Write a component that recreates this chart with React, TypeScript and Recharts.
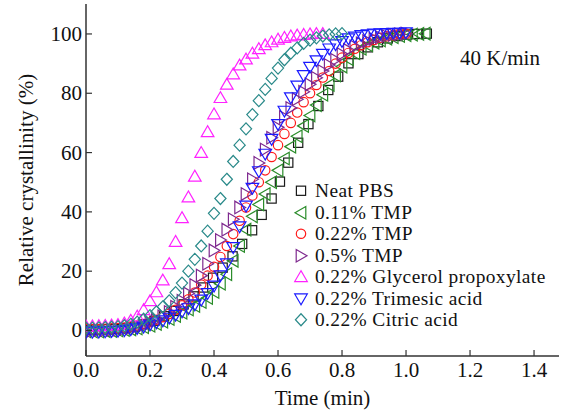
import React from 'react';
import { ScatterChart, Scatter, XAxis, YAxis, Legend, Customized } from 'recharts';

// time axis shared by most series (min)
const timeGrid = [
  0, 0.02, 0.04, 0.06, 0.08, 0.1, 0.12, 0.14, 0.16, 0.18,
  0.2, 0.22, 0.24, 0.26, 0.28, 0.3, 0.32, 0.34, 0.36, 0.38,
  0.4, 0.42, 0.44, 0.46, 0.48, 0.5, 0.52, 0.54, 0.56, 0.58,
  0.6, 0.62, 0.64, 0.66, 0.68, 0.7, 0.72, 0.74, 0.76, 0.78,
  0.8, 0.82, 0.84, 0.86, 0.88, 0.9, 0.92, 0.94, 0.96, 0.98,
  1.0, 1.02, 1.04, 1.06,
];

// neat PBS was sampled a bit more coarsely
const neatPbsTime = [
  0, 0.031, 0.061, 0.092, 0.122, 0.153, 0.183, 0.214, 0.244, 0.275,
  0.305, 0.336, 0.366, 0.397, 0.427, 0.458, 0.488, 0.519, 0.549, 0.58,
  0.606, 0.632, 0.663, 0.695, 0.726, 0.757, 0.788, 0.82, 0.851, 0.881,
  0.912, 0.943, 0.973, 1.004, 1.035, 1.065,
];
const neatPbs = [
  0.3, 0.3, 0.4, 0.5, 0.8, 1.3, 2.1, 3.3, 4.8, 6.6,
  8.8, 11.5, 14.5, 17.8, 21.2, 25.0, 29.2, 33.8, 39.0, 44.5,
  50.2, 56.6, 63.3, 69.6, 75.7, 81.1, 85.6, 90.1, 93.2, 95.5,
  97.2, 98.5, 99.3, 99.8, 100.0, 100.1,
];

const tmp011 = [
  -0.3, -0.3, -0.3, -0.2, -0.1, 0.0, 0.2, 0.4, 0.7, 1.1,
  1.6, 2.2, 3.0, 3.9, 4.9, 6.0, 7.1, 8.3, 9.6, 11.0,
  13.0, 15.8, 19.0, 23.5, 28.5, 34.0, 38.5, 42.5, 46.0, 50.0,
  54.0, 58.0, 62.0, 65.5, 69.0, 72.5, 76.0, 79.5, 82.8, 86.0,
  89.0, 91.5, 93.5, 95.0, 96.2, 97.1, 97.8, 98.4, 98.9, 99.3,
  99.6, 99.8, 100.0, 100.1,
];

const tmp022 = [
  0.5, 0.5, 0.5, 0.6, 0.7, 0.8, 1.0, 1.3, 1.7, 2.2,
  2.8, 3.6, 4.5, 5.6, 7.0, 8.5, 10.5, 12.8, 15.5, 18.5,
  21.5, 24.8, 28.5, 32.5, 37.0, 41.5, 45.5, 50.0, 54.0, 58.5,
  62.5, 66.3, 70.0, 73.5, 77.0, 80.0, 82.8, 85.3, 87.5, 90.0,
  92.0, 93.6, 95.0, 96.2, 97.2, 98.0, 98.7, 99.2, 99.6, 99.9,
  100.1,
];

const tmp05 = [
  0.0, 0.0, 0.1, 0.1, 0.2, 0.3, 0.5, 0.8, 1.2, 1.8,
  2.5, 3.5, 4.8, 6.2, 8.0, 10.0, 12.5, 15.3, 18.5, 22.5,
  27.0, 30.5, 34.0, 37.5, 41.5, 46.0, 51.0, 56.5, 61.0, 65.0,
  68.5, 72.0, 75.0, 78.0, 80.5, 83.0, 85.2, 87.5, 89.5, 91.3,
  93.2, 94.6, 95.8, 96.8, 97.6, 98.3, 98.9, 99.3, 99.7, 99.9,
  100.1,
];

const glycerol = [
  1.5, 1.5, 1.6, 1.7, 1.8, 2.0, 2.5, 3.4, 4.8, 7.0,
  10.0, 13.0, 17.0, 22.5, 30.0, 38.0, 45.0, 52.0, 60.0, 67.0,
  73.0, 78.5, 83.0, 86.5, 89.5, 91.5, 93.5, 95.0, 96.3, 97.3,
  98.2, 98.8, 99.3, 99.6, 99.8, 100.0, 100.1, 100.1,
];

const trimesic = [
  -0.5, -0.5, -0.5, -0.4, -0.3, -0.2, 0.0, 0.3, 0.7, 1.2,
  1.9, 2.6, 3.3, 4.2, 5.2, 6.3, 7.4, 8.7, 10.3, 12.5,
  15.0, 18.5, 22.5, 28.0, 35.0, 42.0, 48.0, 53.6, 59.5, 64.5,
  69.5, 74.0, 78.5, 82.5, 86.0, 88.8, 91.0, 93.2, 95.0, 96.4,
  97.5, 98.4, 99.0, 99.5, 99.8, 100.0, 100.1, 100.2, 100.3, 100.3,
  100.4,
];

const citric = [
  0.8, 0.8, 0.9, 1.0, 1.1, 1.3, 1.6, 2.1, 2.8, 3.8,
  5.0, 6.3, 8.0, 10.0, 12.8, 16.0, 20.0, 24.0, 28.5, 33.5,
  39.5, 44.5, 51.0, 57.0, 62.5, 68.0, 72.8, 77.5, 81.3, 85.0,
  88.5, 91.3, 93.5, 95.3, 96.8, 97.9, 98.7, 99.3, 99.7, 100.0,
  100.1,
];

const xTicks = [0, 0.2, 0.4, 0.6, 0.8, 1.0, 1.2, 1.4];
const yTicks = [0, 20, 40, 60, 80, 100];

const FONT = '"Liberation Serif", "Times New Roman", serif';
const AXIS = '#333';

type MarkerKind = 'square' | 'left' | 'circle' | 'right' | 'up' | 'down' | 'diamond';

const toPoints = (times: number[], values: number[]) =>
  values.map((v, i) => ({ time: times[i], value: v }));

const series: { name: string; kind: MarkerKind; color: string; data: { time: number; value: number }[] }[] = [
  { name: 'Neat PBS', kind: 'square', color: '#1a1a1a', data: toPoints(neatPbsTime, neatPbs) },
  { name: '0.11% TMP', kind: 'left', color: '#2a8c2a', data: toPoints(timeGrid, tmp011) },
  { name: '0.22% TMP', kind: 'circle', color: '#ff1a1a', data: toPoints(timeGrid, tmp022) },
  { name: '0.5% TMP', kind: 'right', color: '#7f2a8f', data: toPoints(timeGrid, tmp05) },
  { name: '0.22% Glycerol propoxylate', kind: 'up', color: '#ff22ff', data: toPoints(timeGrid, glycerol) },
  { name: '0.22% Trimesic acid', kind: 'down', color: '#1a1aff', data: toPoints(timeGrid, trimesic) },
  { name: '0.22% Citric acid', kind: 'diamond', color: '#2a8a8a', data: toPoints(timeGrid, citric) },
];

const Marker = ({ kind, cx, cy, color }: { kind: MarkerKind; cx: number; cy: number; color: string }) => {
  const common = { fill: 'none', stroke: color, strokeWidth: 1.2 };
  switch (kind) {
    case 'square':
      return <rect x={cx - 4.6} y={cy - 4.6} width={9.2} height={9.2} {...common} />;
    case 'circle':
      return <circle cx={cx} cy={cy} r={4.7} {...common} />;
    case 'up':
      return <polygon points={`${cx},${cy - 6} ${cx - 6.3},${cy + 4.8} ${cx + 6.3},${cy + 4.8}`} {...common} />;
    case 'down':
      return <polygon points={`${cx},${cy + 6} ${cx - 6.3},${cy - 4.8} ${cx + 6.3},${cy - 4.8}`} {...common} />;
    case 'left':
      return <polygon points={`${cx - 6},${cy} ${cx + 4.8},${cy - 6.3} ${cx + 4.8},${cy + 6.3}`} {...common} />;
    case 'right':
      return <polygon points={`${cx + 6},${cy} ${cx - 4.8},${cy - 6.3} ${cx - 4.8},${cy + 6.3}`} {...common} />;
    default:
      return <polygon points={`${cx},${cy - 6} ${cx + 5.6},${cy} ${cx},${cy + 6} ${cx - 5.6},${cy}`} {...common} />;
  }
};

// tick label plus a short inward tick mark
const XTick = (props: any) => {
  const { x, y, payload } = props;
  return (
    <g>
      <line x1={x} y1={y} x2={x} y2={y - 6} stroke={AXIS} strokeWidth={1.2} />
      <text x={x} y={y + 21} textAnchor="middle" fontSize={21} fontFamily={FONT} fill="#111">
        {Number(payload.value).toFixed(1)}
      </text>
    </g>
  );
};

const YTick = (props: any) => {
  const { x, y, payload } = props;
  return (
    <g>
      <line x1={x} y1={y} x2={x + 6} y2={y} stroke={AXIS} strokeWidth={1.2} />
      <text x={x - 4} y={y + 7} textAnchor="end" fontSize={21} fontFamily={FONT} fill="#111">
        {payload.value}
      </text>
    </g>
  );
};

const LegendBox = () => (
  <div style={{ fontFamily: FONT, fontSize: 19.4, letterSpacing: 0.4, color: '#111' }}>
    {series.map((s) => (
      <div key={s.name} style={{ display: 'flex', alignItems: 'center', height: 21.5, lineHeight: '21.5px', whiteSpace: 'nowrap' }}>
        <svg width={22} height={21.5} style={{ flex: 'none' }}>
          <Marker kind={s.kind} cx={11} cy={10.75} color={s.color} />
        </svg>
        <span style={{ marginLeft: 3 }}>{s.name}</span>
      </div>
    ))}
  </div>
);

export default function App() {
  return (
    <div style={{ position: 'absolute', left: 0, top: 0, width: 564, height: 416, background: '#fff' }}>
      <ScatterChart width={564} height={416} margin={{ top: 4, right: 5, bottom: 0, left: 0 }}>
        <XAxis
          dataKey="time"
          type="number"
          domain={[0, 1.478]}
          allowDataOverflow
          ticks={xTicks}
          height={60}
          tickSize={0}
          tickMargin={0}
          tickLine={false}
          axisLine={{ stroke: AXIS, strokeWidth: 1.5 }}
          tick={<XTick />}
          label={{
            content: (p: any) => (
              <text
                x={p.viewBox.x + p.viewBox.width / 2}
                y={p.viewBox.y + 49}
                textAnchor="middle"
                fontSize={21}
                fontFamily={FONT}
                fill="#111"
              >
                Time (min)
              </text>
            ),
          }}
        />
        <XAxis
          xAxisId="top"
          orientation="top"
          type="number"
          domain={[0, 1.478]}
          height={0}
          tick={false}
          tickLine={false}
          axisLine={{ stroke: AXIS, strokeWidth: 1.5 }}
        />
        <YAxis
          dataKey="value"
          type="number"
          domain={[-8.6, 110.1]}
          allowDataOverflow
          ticks={yTicks}
          width={86}
          tickSize={0}
          tickMargin={0}
          tickLine={false}
          axisLine={{ stroke: AXIS, strokeWidth: 1.5 }}
          tick={<YTick />}
          label={{
            content: (p: any) => {
              const cx = p.viewBox.x + 26;
              const cy = p.viewBox.y + p.viewBox.height / 2;
              return (
                <text
                  transform={`translate(${cx},${cy}) rotate(-90)`}
                  textAnchor="middle"
                  dominantBaseline="central"
                  fontSize={21}
                  fontFamily={FONT}
                  fill="#111"
                >
                  Relative crystallinity (%)
                </text>
              );
            },
          }}
        />
        <YAxis
          yAxisId="right"
          orientation="right"
          type="number"
          domain={[-8.6, 110.1]}
          width={0}
          tick={false}
          tickLine={false}
          axisLine={{ stroke: AXIS, strokeWidth: 1.5 }}
        />
        {series.map((s) => (
          <Scatter
            key={s.name}
            name={s.name}
            data={s.data}
            dataKey="value"
            isAnimationActive={false}
            shape={(p: any) => <Marker kind={s.kind} cx={p.cx} cy={p.cy} color={s.color} />}
          />
        ))}
        <Legend
          layout="vertical"
          align="center"
          verticalAlign="middle"
          content={() => <LegendBox />}
          wrapperStyle={{ left: 290, top: 180, width: 272 }}
        />
        <Customized
          component={() => (
            <text x={460} y={65} fontSize={21} fontFamily={FONT} fill="#111">
              40 K/min
            </text>
          )}
        />
      </ScatterChart>
    </div>
  );
}
